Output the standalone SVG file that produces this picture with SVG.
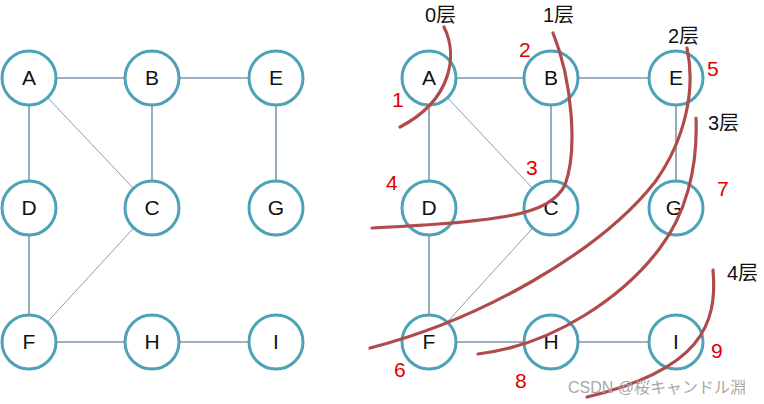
<svg xmlns="http://www.w3.org/2000/svg" width="764" height="404" viewBox="0 0 764 404">
<style>
.edge{stroke:#7f97ac;stroke-width:1.6;fill:none}
.thin{stroke:#8a9db0;stroke-width:1;fill:none}
.node circle{fill:#fff;stroke:#4ea2b8;stroke-width:3}
.node text{font-family:"Liberation Sans",Arial,sans-serif;font-size:21px;fill:#111;text-anchor:middle}
.layer{stroke:#b04b4b;stroke-width:3.2;fill:none;stroke-linecap:round}
.num{font-family:"Liberation Sans",Arial,sans-serif;font-size:21px;fill:#e00000}
.lbl{font-family:"Liberation Sans","Noto Sans CJK SC",sans-serif;font-size:20px;fill:#111}
.wm{font-family:"Liberation Sans","Noto Sans CJK JP",sans-serif;font-size:16px;fill:#a8a8a8}
</style>
<rect width="764" height="404" fill="#fff"/>
<g id="connectors">
<line class="edge" x1="29" y1="78" x2="152" y2="78"/>
<line class="edge" x1="152" y1="78" x2="276" y2="78"/>
<line class="edge" x1="29" y1="78" x2="29" y2="208"/>
<line class="edge" x1="152" y1="78" x2="152" y2="208"/>
<line class="edge" x1="276" y1="78" x2="276" y2="208"/>
<line class="thin" x1="29" y1="78" x2="152" y2="208"/>
<line class="edge" x1="29" y1="208" x2="29" y2="342"/>
<line class="thin" x1="152" y1="208" x2="29" y2="342"/>
<line class="edge" x1="29" y1="342" x2="152" y2="342"/>
<line class="edge" x1="152" y1="342" x2="276" y2="342"/>
<line class="edge" x1="429" y1="78" x2="551" y2="78"/>
<line class="edge" x1="551" y1="78" x2="676" y2="78"/>
<line class="edge" x1="429" y1="78" x2="429" y2="208"/>
<line class="edge" x1="551" y1="78" x2="551" y2="208"/>
<line class="edge" x1="676" y1="78" x2="676" y2="208"/>
<line class="thin" x1="429" y1="78" x2="551" y2="208"/>
<line class="edge" x1="429" y1="208" x2="429" y2="342"/>
<line class="thin" x1="551" y1="208" x2="429" y2="342"/>
<line class="edge" x1="429" y1="342" x2="551" y2="342"/>
<line class="edge" x1="551" y1="342" x2="676" y2="342"/>
</g>
<g id="L-A" class="node"><circle cx="29" cy="78" r="27"/><text x="29" y="85">A</text></g>
<g id="L-B" class="node"><circle cx="152" cy="78" r="27"/><text x="152" y="85">B</text></g>
<g id="L-E" class="node"><circle cx="276" cy="78" r="27"/><text x="276" y="85">E</text></g>
<g id="L-D" class="node"><circle cx="29" cy="208" r="27"/><text x="29" y="215">D</text></g>
<g id="L-C" class="node"><circle cx="152" cy="208" r="27"/><text x="152" y="215">C</text></g>
<g id="L-G" class="node"><circle cx="276" cy="208" r="27"/><text x="276" y="215">G</text></g>
<g id="L-F" class="node"><circle cx="29" cy="342" r="27"/><text x="29" y="349">F</text></g>
<g id="L-H" class="node"><circle cx="152" cy="342" r="27"/><text x="152" y="349">H</text></g>
<g id="L-I" class="node"><circle cx="276" cy="342" r="27"/><text x="276" y="349">I</text></g>
<g id="R-A" class="node"><circle cx="429" cy="78" r="27"/><text x="429" y="85">A</text></g>
<g id="R-B" class="node"><circle cx="551" cy="78" r="27"/><text x="551" y="85">B</text></g>
<g id="R-E" class="node"><circle cx="676" cy="78" r="27"/><text x="676" y="85">E</text></g>
<g id="R-D" class="node"><circle cx="429" cy="208" r="27"/><text x="429" y="215">D</text></g>
<g id="R-C" class="node"><circle cx="551" cy="208" r="27"/><text x="551" y="215">C</text></g>
<g id="R-G" class="node"><circle cx="676" cy="208" r="27"/><text x="674" y="215">G</text></g>
<g id="R-F" class="node"><circle cx="429" cy="342" r="27"/><text x="429" y="349">F</text></g>
<g id="R-H" class="node"><circle cx="551" cy="342" r="27"/><text x="551" y="349">H</text></g>
<g id="R-I" class="node"><circle cx="676" cy="342" r="27"/><text x="676" y="349">I</text></g>
<g id="layers">
<path class="layer" d="M444,27 C458,55 452,100 400,127"/>
<path class="layer" d="M553,33 C572,80 578,150 565,185 C550,215 500,222 372,228"/>
<path class="layer" d="M687,48 C696,90 685,140 655,182 C600,252 480,320 370,348"/>
<path class="layer" d="M696,118 C698,170 685,215 660,248 C625,295 555,345 478,354"/>
<path class="layer" d="M713,270 C718,325 700,370 587,397"/>
</g>
<g id="labels">
<text class="lbl" x="425" y="22">0层</text>
<text class="lbl" x="543" y="22">1层</text>
<text class="lbl" x="668" y="43">2层</text>
<text class="lbl" x="708" y="130">3层</text>
<text class="lbl" x="727" y="280">4层</text>
<text class="num" x="392" y="107">1</text>
<text class="num" x="519" y="57">2</text>
<text class="num" x="526" y="175">3</text>
<text class="num" x="386" y="190">4</text>
<text class="num" x="707" y="76">5</text>
<text class="num" x="394" y="377">6</text>
<text class="num" x="717" y="196">7</text>
<text class="num" x="515" y="388">8</text>
<text class="num" x="711" y="358">9</text>
<text class="wm" x="568" y="393">CSDN @桜キャンドル淵</text>
</g>
</svg>
